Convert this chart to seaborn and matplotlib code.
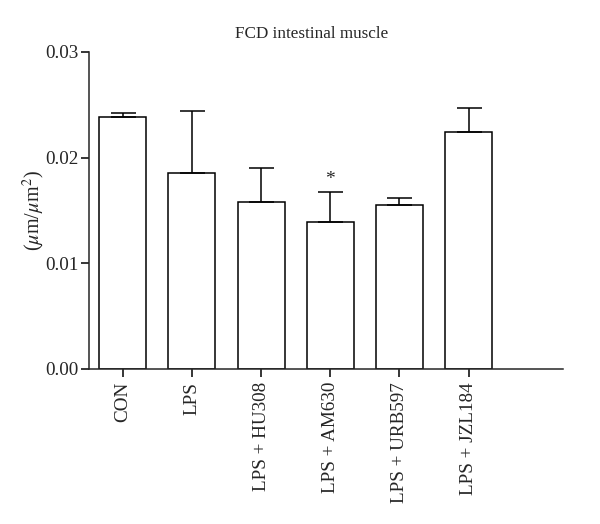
import numpy as np
import pandas as pd
import matplotlib
matplotlib.use("Agg")
import matplotlib.pyplot as plt
import seaborn as sns

groups = ["CON", "LPS", "LPS + HU308", "LPS + AM630", "LPS + URB597", "LPS + JZL184"]
means = [0.0238, 0.0185, 0.0158, 0.0139, 0.0155, 0.0224]
sem = [0.0004, 0.0059, 0.0032, 0.0028, 0.0007, 0.0023]
marks = ["", "", "", "*", "", ""]

df = pd.DataFrame({"group": groups, "fcd": means})

sns.set_style("ticks")
plt.rcParams["font.family"] = ["Liberation Serif", "DejaVu Serif"]
plt.rcParams["mathtext.fontset"] = "stix"

fig = plt.figure(figsize=(6, 5.24), dpi=100)
ax = fig.add_axes([0.148, 0.296, 0.79, 0.605])

sns.barplot(data=df, x="group", y="fcd", ax=ax, color="white", edgecolor="black",
            linewidth=1.1, width=0.68, errorbar=None)
xs = np.arange(len(groups))
ax.errorbar(xs, means, yerr=[np.zeros(len(sem)), sem], fmt="none", ecolor="black",
            elinewidth=1.1, capsize=9, capthick=1.1)
for x, m, s, t in zip(xs, means, sem, marks):
    if t:
        ax.text(x, m + s + 0.0004, t, ha="center", va="bottom", fontsize=14)

ax.set_ylim(0, 0.03)
ax.set_xlim(-0.49, 6.36)
ax.set_yticks([0, 0.01, 0.02, 0.03])
ax.set_yticklabels(["0.00", "0.01", "0.02", "0.03"])
ax.tick_params(axis="both", labelsize=13.8, width=1.1, length=5.5, color="black")
ax.tick_params(axis="y", pad=2)
ax.tick_params(axis="x", rotation=90, pad=4)
ax.set_xlabel("")
ax.set_ylabel(r"($\mu$m/$\mu$m$^2$)", fontsize=14.5)
ax.yaxis.set_label_coords(-0.088, 0.5)
ax.set_title("FCD intestinal muscle", fontsize=12.3, x=0.47, pad=10)
for sp in ["left", "bottom"]:
    ax.spines[sp].set_linewidth(1.1)
sns.despine(ax=ax)

fig.savefig("out.png", dpi=100)
